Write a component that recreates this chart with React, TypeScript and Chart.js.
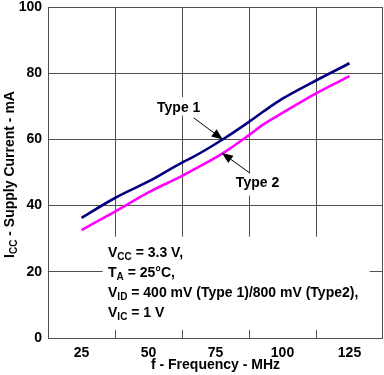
import React, { useEffect, useRef } from "react";
import { Chart, registerables } from "chart.js";

Chart.register(...registerables);

const freqType1 = [25, 37.5, 50, 62.5, 66, 77.5, 87.5, 93, 100, 112.5, 125];
const type1 = [36.3, 42.3, 47.3, 53.0, 54.4, 59.9, 65.3, 68.5, 72.3, 77.8, 83.0];
const freqType2 = [25, 37.5, 50, 62.5, 66, 77.5, 87.5, 93, 100, 112.5, 125];
const type2 = [32.6, 38.2, 44.0, 49.0, 50.5, 55.7, 61.3, 64.6, 68.0, 73.9, 79.1];
const xTickLabels = [25, 50, 75, 100, 125];
const yTickLabels = [0, 20, 40, 60, 80, 100];

const FONT = "Arial, 'Liberation Sans', sans-serif";
const GRID = "#505050";

type Part = [string, boolean];

function richWidth(ctx: CanvasRenderingContext2D, parts: Part[], size: number, subSize: number) {
  let w = 0;
  for (const [t, sub] of parts) {
    ctx.font = `bold ${sub ? subSize : size}px ${FONT}`;
    w += ctx.measureText(t).width;
  }
  return w;
}

function drawRich(ctx: CanvasRenderingContext2D, parts: Part[], x: number, y: number, size: number, subSize: number, subDy: number) {
  ctx.textBaseline = "middle";
  ctx.textAlign = "left";
  let cx = x;
  for (const [t, sub] of parts) {
    ctx.font = `bold ${sub ? subSize : size}px ${FONT}`;
    ctx.fillText(t, cx, sub ? y + subDy : y);
    cx += ctx.measureText(t).width;
  }
}

function arrow(ctx: CanvasRenderingContext2D, x1: number, y1: number, x2: number, y2: number) {
  const ang = Math.atan2(y2 - y1, x2 - x1);
  const len = 11;
  const hw = 4.5;
  ctx.strokeStyle = "#000";
  ctx.lineWidth = 1;
  ctx.beginPath();
  ctx.moveTo(x1, y1);
  ctx.lineTo(x2 - Math.cos(ang) * len, y2 - Math.sin(ang) * len);
  ctx.stroke();
  ctx.fillStyle = "#000";
  ctx.beginPath();
  ctx.moveTo(x2, y2);
  const bx = x2 - Math.cos(ang) * len;
  const by = y2 - Math.sin(ang) * len;
  ctx.lineTo(bx + Math.sin(ang) * hw, by - Math.cos(ang) * hw);
  ctx.lineTo(bx - Math.sin(ang) * hw, by + Math.cos(ang) * hw);
  ctx.closePath();
  ctx.fill();
}

const annotPlugin = {
  id: "annot",
  beforeDatasetsDraw(chart: any) {
    const { ctx, scales } = chart;
    const xs = scales.x, ys = scales.y;
    ctx.save();
    ctx.fillStyle = "#fff";
    const box = (x1: number, y1: number, x2: number, y2: number) => {
      const px1 = xs.getPixelForValue(x1), px2 = xs.getPixelForValue(x2);
      const py1 = ys.getPixelForValue(y1), py2 = ys.getPixelForValue(y2);
      ctx.fillRect(px1, py1, px2 - px1, py2 - py1);
    };
    box(32.9, 30.6, 132.5, 2.4);
    box(52.5, 72.8, 72.5, 67.2);
    box(81.5, 49.8, 96, 43);
    ctx.restore();
  },
  afterDraw(chart: any) {
    const { ctx, scales, chartArea } = chart;
    const xs = scales.x, ys = scales.y;
    ctx.save();
    ctx.strokeStyle = GRID;
    ctx.lineWidth = 1;
    ctx.strokeRect(chartArea.left + 0.5, chartArea.top + 0.5, chartArea.right - chartArea.left - 1, chartArea.bottom - chartArea.top);
    ctx.fillStyle = "#000";
    drawRich(ctx, [["Type 1", false]], xs.getPixelForValue(53.2), ys.getPixelForValue(69.5), 14, 10, 4);
    drawRich(ctx, [["Type 2", false]], xs.getPixelForValue(82.6), ys.getPixelForValue(46.8), 14, 10, 4);
    arrow(ctx, xs.getPixelForValue(66.9), ys.getPixelForValue(66.5), xs.getPixelForValue(77.7), ys.getPixelForValue(60.0));
    arrow(ctx, xs.getPixelForValue(87.9), ys.getPixelForValue(49.8), xs.getPixelForValue(77.4), ys.getPixelForValue(55.9));
    ctx.fillStyle = "#000";
    const nx = xs.getPixelForValue(34.9);
    const lines: [Part[], number][] = [
      [[["V", false], ["CC", true], [" = 3.3 V,", false]], 25.7],
      [[["T", false], ["A", true], [" = 25°C,", false]], 19.6],
      [[["V", false], ["ID", true], [" = 400 mV (Type 1)/800 mV (Type2),", false]], 13.6],
      [[["V", false], ["IC", true], [" = 1 V", false]], 7.6],
    ];
    for (const [parts, v] of lines) {
      drawRich(ctx, parts, nx, ys.getPixelForValue(v), 14, 10, 4);
    }
    const yParts: Part[] = [["I", false], ["CC", true], [" - Supply Current - mA", false]];
    const w = richWidth(ctx, yParts, 14, 10);
    const cy = (chartArea.top + chartArea.bottom) / 2 + 2;
    ctx.translate(10, cy);
    ctx.rotate(-Math.PI / 2);
    drawRich(ctx, yParts, -w / 2, 0, 14, 10, 4);
    ctx.restore();
    ctx.save();
    ctx.fillStyle = "#000";
    ctx.font = `bold 14px ${FONT}`;
    ctx.textAlign = "center";
    ctx.textBaseline = "middle";
    ctx.fillText("f - Frequency - MHz", (chartArea.left + chartArea.right) / 2, 365);
    ctx.restore();
  },
};

export default function App() {
  const ref = useRef<HTMLCanvasElement>(null);
  useEffect(() => {
    document.body.style.margin = "0";
    const canvas = ref.current!;
    const chart = new Chart(canvas, {
      type: "line",
      data: {
        datasets: [
          {
            label: "Type 1",
            data: freqType1.map((f, i) => ({ x: f, y: type1[i] })),
            borderColor: "#000080",
            borderWidth: 2.6,
            pointRadius: 0,
            cubicInterpolationMode: "monotone",
            fill: false,
          },
          {
            label: "Type 2",
            data: freqType2.map((f, i) => ({ x: f, y: type2[i] })),
            borderColor: "#ff00ff",
            borderWidth: 2.6,
            pointRadius: 0,
            cubicInterpolationMode: "monotone",
            fill: false,
          },
        ],
      },
      options: {
        animation: false,
        responsive: false,
        maintainAspectRatio: false,
        layout: { padding: { top: 7, right: 1, left: 0, bottom: 0 } },
        plugins: { legend: { display: false }, tooltip: { enabled: false } },
        scales: {
          x: {
            type: "linear",
            min: 12.5,
            max: 137.5,
            afterBuildTicks: (scale: any) => {
              const t: any[] = [];
              for (let v = 12.5; v <= 137.5 + 1e-9; v += 12.5) t.push({ value: v });
              scale.ticks = t;
            },
            afterFit: (scale: any) => {
              scale.height = 37;
              scale.paddingLeft = 0;
              scale.paddingRight = 0;
            },
            grid: {
              drawTicks: false,
              lineWidth: 1,
              color: (c: any) => {
                const v = c.tick ? c.tick.value : 0;
                if (v <= 12.5 || v >= 137.5) return "rgba(0,0,0,0)";
                return Math.abs((v - 12.5) % 25) < 1e-6 ? GRID : "rgba(0,0,0,0)";
              },
            },
            border: { display: false },
            ticks: {
              autoSkip: false,
              maxRotation: 0,
              padding: 7,
              color: "#000",
              font: { family: FONT, size: 14, weight: "bold" },
              callback: (v: any) => (xTickLabels.includes(Number(v)) ? String(v) : ""),
            },
          },
          y: {
            min: 0,
            max: 100,
            afterBuildTicks: (scale: any) => {
              scale.ticks = yTickLabels.map((v) => ({ value: v }));
            },
            afterFit: (scale: any) => {
              scale.width = 48;
              scale.paddingTop = 0;
              scale.paddingBottom = 0;
            },
            grid: {
              drawTicks: false,
              color: (c: any) => {
                const v = c.tick ? c.tick.value : 0;
                return v <= 0 || v >= 100 ? "rgba(0,0,0,0)" : GRID;
              },
            },
            border: { display: false },
            ticks: {
              padding: 6,
              color: "#000",
              font: { family: FONT, size: 14, weight: "bold" },
            },
          },
        },
      },
      plugins: [annotPlugin],
    } as any);
    return () => chart.destroy();
  }, []);
  return (
    <div style={{ width: 384, height: 375 }}>
      <canvas ref={ref} width={384} height={375} style={{ display: "block", width: 384, height: 375 }} />
    </div>
  );
}
